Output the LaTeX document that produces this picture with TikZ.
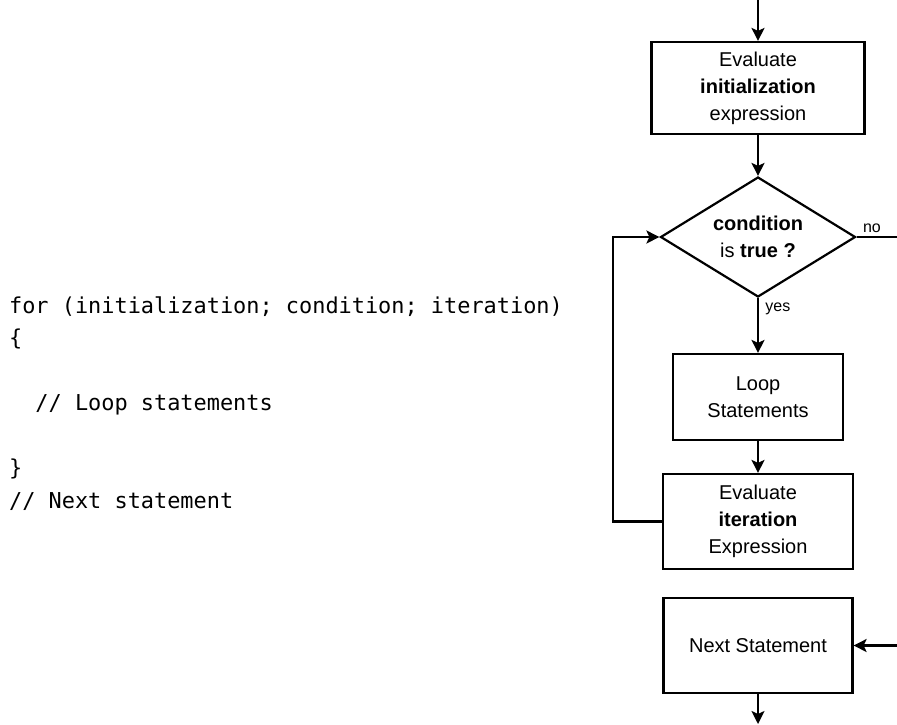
\documentclass[tikz,border=0pt]{standalone}
\usepackage{fontspec}
\setmainfont{Liberation Sans}
\newfontfamily\codefont{DejaVu Sans Mono}
\usetikzlibrary{shapes.geometric, arrows.meta}

\begin{document}
\begin{tikzpicture}[x=1pt, y=-1pt, line width=2.2pt,
    box/.style={draw, inner sep=0pt, align=center, font=\fontsize{20}{27}\selectfont},
    decision/.style={draw, diamond, aspect=1.625, inner sep=0pt, minimum width=195pt,
      minimum height=120pt, align=center, font=\fontsize{20}{27}\selectfont},
    flow/.style={-{Stealth[length=13pt, width=13pt, inset=3pt]}},
    lbl/.style={font=\fontsize{16}{18}\selectfont},
    code/.style={anchor=base west, inner sep=0pt, font=\codefont\fontsize{21.9}{26}\selectfont}]
  \useasboundingbox (0, 0) rectangle (897, 724);

  % source code
  \node[code] (forline) at (8, 313) {for (initialization; condition; iteration)};
  \node[code] (open) at (8, 345.5) {\{};
  \node[code] (body) at (8, 410.5) {\ \ // Loop statements};
  \node[code] (close) at (8, 475.5) {\}};
  \node[code] (after) at (8, 508) {// Next statement};

  % flowchart
  \node[box, minimum width=213pt, minimum height=92pt] (init) at (758, 88)
    {Evaluate\\{\bfseries initialization}\\expression};
  \node[decision] (cond) at (758, 237) {{\bfseries condition}\\is {\bfseries true ?}};
  \node[box, minimum width=170pt, minimum height=86pt] (loop) at (758, 397)
    {Loop\\Statements};
  \node[box, minimum width=190pt, minimum height=95pt] (iter) at (758, 521.5)
    {Evaluate\\{\bfseries iteration}\\Expression};
  \node[box, minimum width=189pt, minimum height=95pt] (next) at (758, 645.5)
    {Next Statement};

  \coordinate (start) at (758, 0);
  \coordinate (noend) at (897, 237);
  \coordinate (nextin) at (897, 645.5);
  \coordinate (finish) at (758, 724);

  \draw[flow] (start) -- (init);
  \draw[flow] (init) -- (cond);
  \draw (cond.east) -- node[lbl, above, pos=0.38]{no} (noend);
  \draw[flow] (cond.south) -- node[lbl, right=3pt, pos=0.2]{yes} (loop);
  \draw[flow] (loop) -- (iter);
  \draw[flow] (iter.west) -- ++(-49, 0) |- (cond.west);
  \draw[flow] (nextin) -- (next.east);
  \draw[flow] (next) -- (finish);
\end{tikzpicture}
\end{document}
